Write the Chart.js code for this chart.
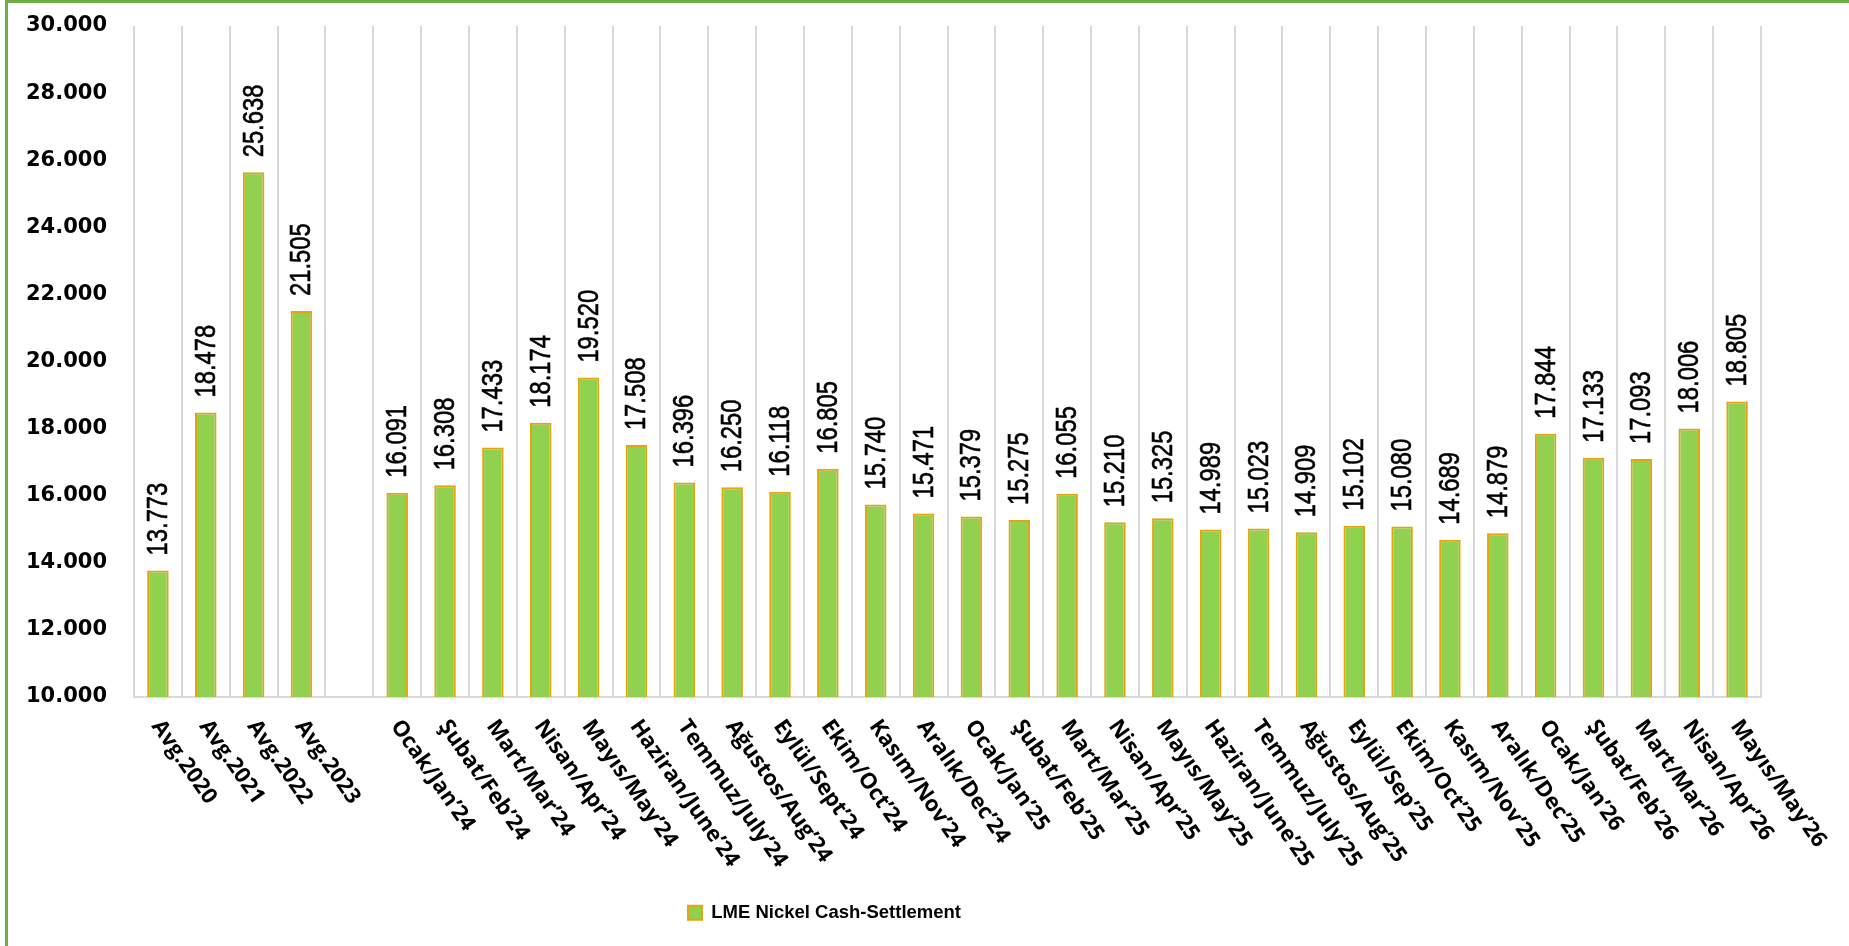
<!DOCTYPE html>
<html><head><meta charset="utf-8">
<script src="https://cdn.jsdelivr.net/npm/chart.js@4.4.1/dist/chart.umd.min.js"></script>
<style>
html,body{margin:0;padding:0;background:#fff;}
#wrap{position:relative;width:1849px;height:946px;overflow:hidden;background:#fff;}
#bl{position:absolute;left:5px;top:0;width:3px;height:946px;background:#70AD47;}
#bt{position:absolute;left:5px;top:0;width:1844px;height:3px;background:#70AD47;}
canvas{position:absolute;left:0;top:0;}
</style></head><body>
<div id="wrap"><canvas id="c" width="1849" height="946"></canvas><div id="bl"></div><div id="bt"></div></div>
<script>
const categories = [
  "Avg.2020","Avg.2021","Avg.2022","Avg.2023","",
  "Ocak/Jan’24","Şubat/Feb’24","Mart/Mar’24","Nisan/Apr’24","Mayıs/May’24","Haziran/June’24",
  "Temmuz/July’24","Ağustos/Aug’24","Eylül/Sept’24","Ekim/Oct’24","Kasım/Nov’24","Aralık/Dec’24",
  "Ocak/Jan’25","Şubat/Feb’25","Mart/Mar’25","Nisan/Apr’25","Mayıs/May’25","Haziran/June’25",
  "Temmuz/July’25","Ağustos/Aug’25","Eylül/Sep’25","Ekim/Oct’25","Kasım/Nov’25","Aralık/Dec’25",
  "Ocak/Jan’26","Şubat/Feb’26","Mart/Mar’26","Nisan/Apr’26","Mayıs/May’26"
];
const nickelValues = [
  13773, 18478, 25638, 21505, null,
  16091, 16308, 17433, 18174, 19520, 17508,
  16396, 16250, 16118, 16805, 15740, 15471,
  15379, 15275, 16055, 15210, 15325, 14989,
  15023, 14909, 15102, 15080, 14689, 14879,
  17844, 17133, 17093, 18006, 18805
];
const yTicks = [10000, 12000, 14000, 16000, 18000, 20000, 22000, 24000, 26000, 28000, 30000];
const seriesName = "LME Nickel Cash-Settlement";

function fmt(v){
  const th = Math.floor(v/1000), r = Math.round(v%1000);
  return th + "." + String(r).padStart(3,"0");
}

const dataLabelPlugin = {
  id:"dataLabels",
  afterDatasetsDraw(chart){
    const ctx = chart.ctx;
    const meta = chart.getDatasetMeta(0);
    ctx.save();
    ctx.fillStyle = "#000";
    ctx.strokeStyle = "#000";
    ctx.lineWidth = 0.6;
    ctx.font = '29px "Liberation Sans", Arial, sans-serif';
    ctx.textAlign = "left";
    ctx.textBaseline = "middle";
    meta.data.forEach((bar,i)=>{
      const v = nickelValues[i];
      if (v == null) return;
      ctx.save();
      ctx.translate(bar.x + 1, bar.y - 15);
      ctx.rotate(-Math.PI/2);
      ctx.scale(0.82, 1);
      ctx.fillText(fmt(v), 0, 0);
      ctx.strokeText(fmt(v), 0, 0);
      ctx.restore();
    });
    ctx.restore();
  }
};

const xLabelPlugin = {
  id:"xLabels",
  afterDraw(chart){
    const xs = chart.scales.x, ctx = chart.ctx;
    const base = chart.chartArea.bottom;
    ctx.save();
    ctx.fillStyle = "#000";
    ctx.font = 'bold 22px "Open Sans", sans-serif';
    ctx.textAlign = "left";
    ctx.textBaseline = "alphabetic";
    categories.forEach((lab,i)=>{
      if (!lab) return;
      const x = xs.getPixelForValue(i);
      ctx.save();
      ctx.translate(x - 7, base + 29);
      ctx.rotate(55*Math.PI/180);
      ctx.fillText(lab, 0, 0);
      ctx.restore();
    });
    ctx.restore();
  }
};

const legendShift = {
  id:"legendShift",
  afterLayout(chart){
    const lg = chart.legend;
    if (lg) { lg.left -= 69; lg.right -= 69; }
  }
};

new Chart(document.getElementById("c"), {
  type:"bar",
  data:{
    labels: categories,
    datasets:[{
      label: seriesName,
      data: nickelValues,
      backgroundColor:"#92D050",
      borderColor:"#E5A30F",
      borderWidth:2,
      categoryPercentage:1,
      barPercentage:0.45
    }]
  },
  options:{
    responsive:false,
    animation:false,
    devicePixelRatio:1,
    layout:{padding:{left:26,right:88,top:26,bottom:14}},
    plugins:{
      legend:{
        position:"bottom",
        labels:{
          boxWidth:14, boxHeight:14, padding:10, color:"#000",
          font:{family:'"Liberation Sans", Arial, sans-serif', size:18.5, weight:"bold"}
        }
      },
      tooltip:{enabled:false}
    },
    scales:{
      x:{
        offset:true,
        grid:{display:true, offset:true, color:"#D9D9D9", lineWidth:2, drawTicks:false},
        border:{display:true, color:"#D9D9D9", width:2},
        ticks:{display:false},
        afterFit(s){ s.height = 196.5; }
      },
      y:{
        min:10000, max:30000,
        grid:{display:false, drawTicks:false},
        border:{display:false},
        afterBuildTicks(s){ s.ticks = yTicks.map(v=>({value:v})); },
        ticks:{
          padding:0, crossAlign:"far", color:"#000",
          font:{family:'"DejaVu Sans", sans-serif', size:21, weight:"bold"},
          callback:(v)=>fmt(v)
        },
        afterFit(s){ s.width = 108; }
      }
    }
  },
  plugins:[dataLabelPlugin, xLabelPlugin, legendShift]
});
</script>
</body></html>
